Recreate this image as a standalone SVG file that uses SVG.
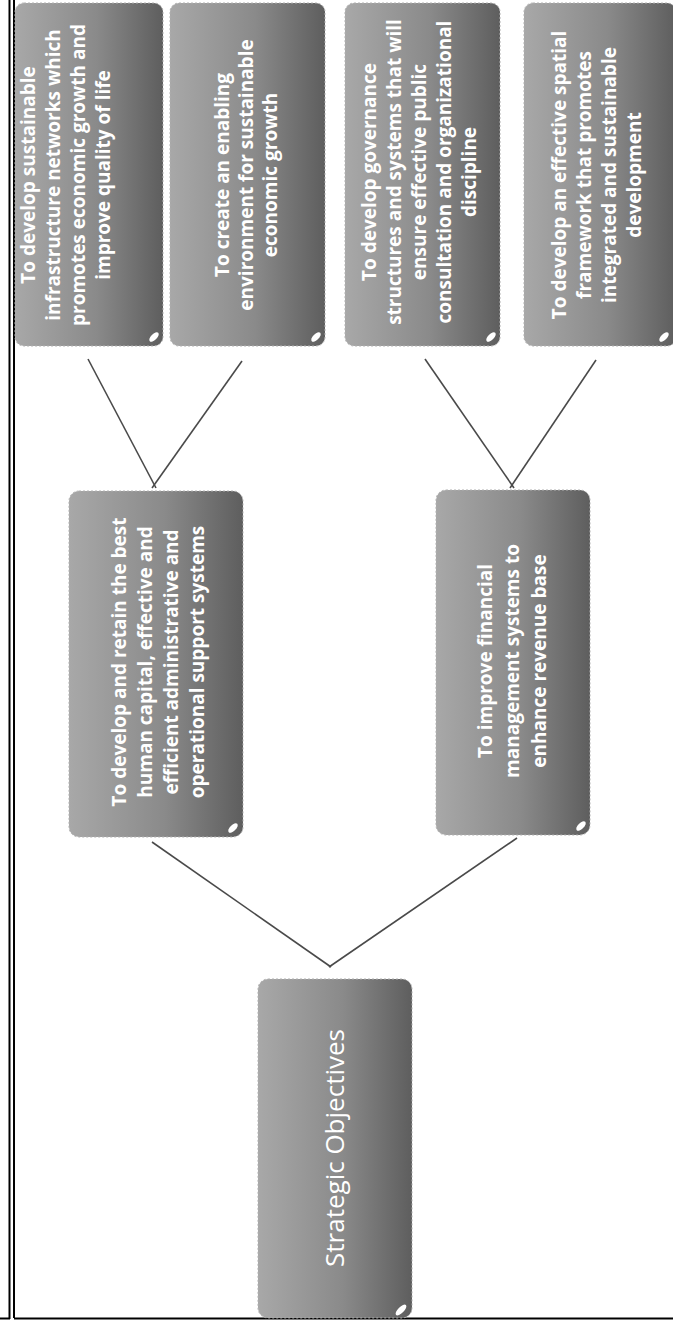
<svg xmlns="http://www.w3.org/2000/svg" width="673" height="1321" viewBox="0 0 673 1321">
<defs>
<linearGradient id="boxGrad" x1="0" y1="0" x2="1" y2="0">
<stop offset="0" stop-color="#a8a8a8"/>
<stop offset="0.55" stop-color="#8a8a8a"/>
<stop offset="1" stop-color="#5e5e5e"/>
</linearGradient>
<style>
.box{fill:url(#boxGrad);stroke:#b0b0b0;stroke-width:1;stroke-dasharray:2 2}
.curl{fill:#ffffff}
.obj{font-family:"Open Sans","Liberation Sans",sans-serif;font-weight:bold;font-size:19px;fill:#ffffff;text-anchor:middle;dominant-baseline:central}
.root{font-family:"Open Sans","Liberation Sans",sans-serif;font-size:26px;fill:#ffffff;text-anchor:middle;dominant-baseline:central}
.conn{stroke:#4a4a4a;stroke-width:1.6;fill:none}
.frame{stroke:#000000;stroke-width:2;fill:none}
</style>
</defs>
<rect x="0" y="0" width="673" height="1321" fill="#ffffff"/>
<g id="frame">
<line class="frame" x1="9.5" y1="0" x2="9.5" y2="1319"/>
<line class="frame" x1="14" y1="0" x2="14" y2="1318"/>
<line class="frame" x1="0" y1="1318.5" x2="10" y2="1318.5"/>
<line class="frame" x1="14" y1="1318.5" x2="673" y2="1318.5"/>
</g>
<g id="connectors">
<line class="conn" x1="88" y1="359" x2="156" y2="488"/>
<line class="conn" x1="242" y1="361" x2="152" y2="488"/>
<line class="conn" x1="425" y1="359" x2="514" y2="488"/>
<line class="conn" x1="596" y1="360" x2="510" y2="488"/>
<line class="conn" x1="152" y1="842" x2="331" y2="967"/>
<line class="conn" x1="517" y1="838" x2="329" y2="967"/>
</g>
<g id="obj1">
<rect class="box" x="15" y="3" width="148" height="343" rx="9"/>
<ellipse class="curl" cx="154" cy="337" rx="6" ry="3" transform="rotate(-45 154 337)"/>
<text class="obj" transform="translate(65.5 175) rotate(-90)"><tspan x="0" y="-37.5">To develop sustainable</tspan><tspan x="0" y="-12.5">infrastructure networks which</tspan><tspan x="0" y="12.5">promotes economic growth and</tspan><tspan x="0" y="37.5">improve quality of life</tspan></text>
</g>
<g id="obj2">
<rect class="box" x="170" y="3" width="155" height="343" rx="9"/>
<ellipse class="curl" cx="316" cy="337" rx="6" ry="3" transform="rotate(-45 316 337)"/>
<text class="obj" transform="translate(246 175) rotate(-90)"><tspan x="0" y="-24">To create an enabling</tspan><tspan x="0" y="0">environment for sustainable</tspan><tspan x="0" y="24">economic growth</tspan></text>
</g>
<g id="obj3">
<rect class="box" x="345" y="3" width="155" height="343" rx="9"/>
<ellipse class="curl" cx="491" cy="337" rx="6" ry="3" transform="rotate(-45 491 337)"/>
<text class="obj" transform="translate(419 172) rotate(-90)"><tspan x="0" y="-50">To develop governance</tspan><tspan x="0" y="-25">structures and systems that will</tspan><tspan x="0" y="0">ensure effective public</tspan><tspan x="0" y="25">consultation and organizational</tspan><tspan x="0" y="50">discipline</tspan></text>
</g>
<g id="obj4">
<rect class="box" x="524" y="3" width="152" height="343" rx="9"/>
<ellipse class="curl" cx="664" cy="337" rx="6" ry="3" transform="rotate(-45 664 337)"/>
<text class="obj" transform="translate(596 175) rotate(-90)"><tspan x="0" y="-37.5">To develop an effective spatial</tspan><tspan x="0" y="-12.5">framework that promotes</tspan><tspan x="0" y="12.5">integrated and sustainable</tspan><tspan x="0" y="37.5">development</tspan></text>
</g>
<g id="objC">
<rect class="box" x="69" y="491" width="174" height="346" rx="10"/>
<ellipse class="curl" cx="233" cy="828" rx="6" ry="3" transform="rotate(-45 233 828)"/>
<text class="obj" transform="translate(157.5 662) rotate(-90)"><tspan x="0" y="-39">To develop and retain the best</tspan><tspan x="0" y="-13">human capital, effective and</tspan><tspan x="0" y="13">efficient administrative and</tspan><tspan x="0" y="39">operational support systems</tspan></text>
</g>
<g id="objD">
<rect class="box" x="436" y="490" width="154" height="345" rx="10"/>
<ellipse class="curl" cx="581" cy="826" rx="6" ry="3" transform="rotate(-45 581 826)"/>
<text class="obj" transform="translate(512 661) rotate(-90)"><tspan x="0" y="-27">To improve financial</tspan><tspan x="0" y="0">management systems to</tspan><tspan x="0" y="27">enhance revenue base</tspan></text>
</g>
<g id="root">
<rect class="box" x="258" y="979" width="154" height="339" rx="10"/>
<ellipse class="curl" cx="401" cy="1310" rx="7" ry="3" transform="rotate(-45 401 1310)"/>
<text class="root" transform="translate(334 1148) rotate(-90)">Strategic Objectives</text>
</g>
</svg>
